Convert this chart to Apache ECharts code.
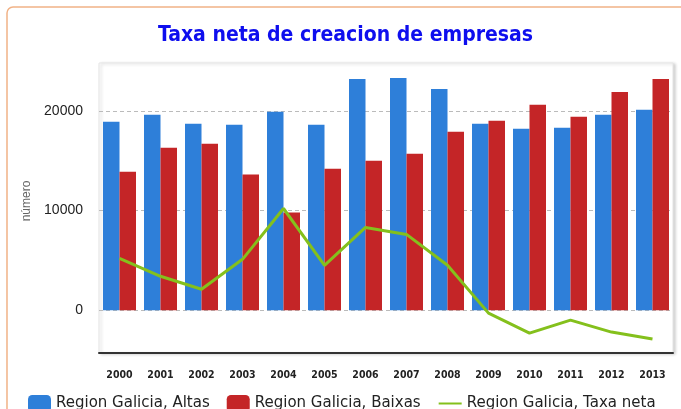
<!DOCTYPE html>
<html>
<head>
<meta charset="utf-8">
<script src="https://cdn.jsdelivr.net/npm/echarts@6/dist/echarts.min.js"></script>
<style>
html,body{margin:0;padding:0;background:#fff;}
#chart{width:681px;height:409px;}
</style>
</head>
<body>
<div id="chart"></div>
<script>
const titleText = 'Taxa neta de creacion de empresas';
const years = ['2000','2001','2002','2003','2004','2005','2006','2007','2008','2009','2010','2011','2012','2013'];
const altas = [18900,19600,18700,18600,19900,18600,23200,23300,22200,18700,18200,18300,19600,20100];
const baixas = [13900,16300,16700,13600,9800,14200,15000,15700,17900,19000,20600,19400,21900,23200];
const taxaNeta = [5200,3400,2100,5100,10200,4500,8300,7600,4500,-300,-2300,-1000,-2200,-2900];
const yTicks = [0,10000,20000];
const seriesNames = ['Region Galicia, Altas','Region Galicia, Baixas','Region Galicia, Taxa neta'];
const yName = 'número';

const chart = echarts.init(document.getElementById('chart'), null, {renderer:'canvas'});
chart.setOption({
  animation:false,
  backgroundColor:'#fff',
  graphic:[{
    type:'rect', z:-10,
    shape:{x:7, y:7, width:720, height:430, r:6},
    style:{fill:'none', stroke:'#f1b286', lineWidth:1.5}
  }],
  title:{
    text:titleText, left:153, top:20, padding:5,
    textStyle:{fontFamily:'DejaVu Sans Condensed, DejaVu Sans', fontWeight:'bold', fontSize:21, color:'#0e0eee'}
  },
  legend:{
    left:28, top:395, padding:0, itemGap:17, itemWidth:23, itemHeight:17,
    textStyle:{fontFamily:'DejaVu Sans', fontSize:15, color:'#222'},
    data:[
      {name:seriesNames[0], icon:'roundRect'},
      {name:seriesNames[1], icon:'roundRect'},
      {name:seriesNames[2], itemStyle:{opacity:0}}
    ]
  },
  grid:{
    left:99, right:8, top:63, bottom:56,
    show:true, backgroundColor:'#fff', borderColor:'#e6e6e6', borderWidth:1,
    shadowColor:'rgba(0,0,0,0.18)', shadowBlur:3, shadowOffsetX:2, shadowOffsetY:1
  },
  xAxis:{
    type:'category', data:years, boundaryGap:true,
    axisLine:{onZero:false, lineStyle:{color:'#333', width:2}},
    axisTick:{alignWithLabel:true, length:5, lineStyle:{color:'#333', width:1.5}},
    axisLabel:{margin:17, fontFamily:'DejaVu Sans Condensed, DejaVu Sans', fontWeight:'bold', fontSize:10.5, color:'#222'},
    splitLine:{show:false}
  },
  yAxis:{
    type:'value', min:-4300, max:24800,
    name:yName, nameLocation:'middle', nameRotate:90, nameGap:56,
    nameTextStyle:{fontFamily:'Liberation Sans', fontSize:12, color:'#666', padding:[0,0,0,14]},
    axisLine:{show:false},
    axisTick:{show:false, customValues:yTicks},
    axisLabel:{customValues:yTicks, margin:16, fontFamily:'Liberation Sans', fontSize:14, color:'#222',
      formatter:function(v){return String(v);}},
    splitLine:{show:true, lineStyle:{color:'#bbb', type:[4,3], width:1}}
  },
  series:[
    {name:seriesNames[0], type:'bar', data:altas, barWidth:16.5, barGap:'0%', itemStyle:{color:'#2e7fd9'}},
    {name:seriesNames[1], type:'bar', data:baixas, barWidth:16.5, barGap:'0%', itemStyle:{color:'#c42527'}},
    {name:seriesNames[2], type:'line', data:taxaNeta, symbol:'none', z:5,
     lineStyle:{color:'#84c01c', width:3}, itemStyle:{color:'#84c01c'}}
  ]
});
</script>
</body>
</html>
